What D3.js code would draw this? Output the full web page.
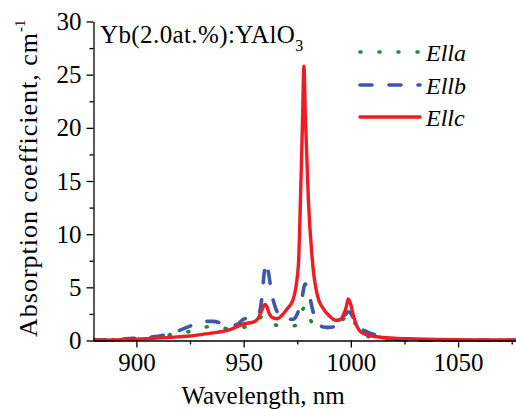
<!DOCTYPE html>
<html><head><meta charset="utf-8">
<script src="https://cdn.jsdelivr.net/npm/d3@7"></script>
<style>html,body{margin:0;padding:0;background:#fff;}svg{display:block;}</style>
</head><body>
<svg id="chart" width="516" height="409"></svg>
<script>
// ---- data ----
const xTicks = [900, 950, 1000, 1050];
const xMinorTicks = [925, 975, 1025, 1075];
const yTicks = [0, 5, 10, 15, 20, 25, 30];
const yMinorTicks = [2.5, 7.5, 12.5, 17.5, 22.5, 27.5];

const seriesNames = ["Ella", "Ellb", "Ellc"];

const wlA = [880, 890, 900, 910, 915, 920, 926, 930, 934, 938, 944, 948, 952, 955, 957.5, 959, 961, 963, 966, 970, 974, 976, 977.5, 978.7, 980, 981.5, 983, 986, 990, 993, 996, 999, 1001, 1003, 1006, 1010, 1015, 1025, 1077];
const valA = [0.03, 0.06, 0.12, 0.3, 0.5, 0.7, 0.9, 1.15, 1.3, 1.25, 1.1, 1.2, 1.35, 1.7, 2.1, 2.3, 1.9, 1.6, 1.4, 1.3, 1.4, 2.2, 2.9, 3.2, 2.6, 1.8, 1.4, 1.3, 1.2, 1.4, 1.9, 2.5, 2.0, 1.2, 0.6, 0.25, 0.1, 0.04, 0.02];

const wlB = [880, 890, 898, 905, 910, 915, 920, 925, 929, 932, 936, 940, 944, 947, 950, 954, 957, 958.5, 959.5, 960.5, 961.5, 963, 965, 967, 970, 973, 975, 977, 978.7, 980, 981.5, 983, 985, 988, 991, 994, 997, 999, 1001, 1003, 1006, 1009, 1013, 1018, 1025, 1035, 1077];
const valB = [0.05, 0.08, 0.2, 0.3, 0.4, 0.6, 0.95, 1.35, 1.7, 1.8, 1.8, 1.6, 1.4, 1.5, 2.0, 2.2, 2.5, 4.0, 6.2, 7.3, 6.5, 4.5, 3.0, 2.3, 2.0, 2.0, 2.5, 3.8, 5.3, 4.8, 3.5, 2.2, 1.5, 1.25, 1.25, 1.6, 2.3, 2.7, 2.2, 1.4, 0.95, 0.7, 0.4, 0.15, 0.06, 0.03, 0.02];

const wlC = [880, 890, 900, 910, 920, 925, 930, 935, 940, 944, 948, 951, 954, 956, 958, 959, 960, 961, 962, 964, 965.6, 968, 970, 973, 975.5, 976.5, 977.5, 978.1, 978.8, 980.2, 982.3, 985, 986.5, 990, 993, 995, 996.5, 997.8, 998.7, 999.6, 1001, 1002.5, 1004, 1006, 1008, 1012, 1020, 1030, 1040, 1050, 1060, 1077];
const valC = [0.03, 0.06, 0.12, 0.22, 0.35, 0.42, 0.55, 0.7, 0.85, 1.05, 1.4, 1.6, 1.7, 1.9, 2.6, 3.1, 3.4, 3.1, 2.5, 2.1, 2.05, 2.4, 2.9, 3.8, 7.0, 13.2, 21, 25.8, 21, 13.2, 7.0, 3.8, 3.2, 2.3, 1.9, 1.95, 2.4, 3.1, 3.9, 3.6, 2.5, 1.5, 0.95, 0.65, 0.5, 0.35, 0.22, 0.15, 0.1, 0.07, 0.05, 0.04];

// ---- layout ----
const svg = d3.select("#chart");
const x = d3.scaleLinear().domain([880, 1077]).range([93.5, 516]);
const y = d3.scaleLinear().domain([0, 30]).range([340.5, 21.5]);
const FONT = "Liberation Serif, Tinos, Times New Roman, DejaVu Serif, serif";

const styles = [
  {color: "#1a8a3a", width: 3.6, dash: "1,18", cap: "round"},
  {color: "#3b58ab", width: 3.6, dash: "12,17", cap: "round"},
  {color: "#ee1c25", width: 3.4, dash: null, cap: "round"}
];
const wls = [wlA, wlB, wlC];
const vals = [valA, valB, valC];

svg.append("defs").append("clipPath").attr("id", "clip")
  .append("rect").attr("x", 93.5).attr("y", 0).attr("width", 516 - 93.5).attr("height", 342);

const line = d3.line().x(d => x(d[0])).y(d => y(d[1])).curve(d3.curveMonotoneX);

const plot = svg.append("g").attr("clip-path", "url(#clip)");
[0, 1, 2].forEach(i => {
  const pts = wls[i].map((w, j) => [w, vals[i][j]]);
  plot.append("path").datum(pts).attr("d", line)
    .attr("fill", "none").attr("stroke", styles[i].color)
    .attr("stroke-width", styles[i].width)
    .attr("stroke-linecap", styles[i].cap).attr("stroke-linejoin", "round")
    .attr("stroke-dasharray", styles[i].dash);
});

// ---- axes ----
svg.append("g").attr("transform", "translate(0,340.5)")
  .call(d3.axisBottom(x).tickValues(xTicks).tickSize(7).tickPadding(6).tickSizeOuter(0).tickFormat(d3.format("d")));
svg.append("g").attr("transform", "translate(0,340.5)")
  .call(d3.axisBottom(x).tickValues(xMinorTicks).tickSize(4).tickSizeOuter(0).tickFormat(""))
  .select(".domain").remove();
svg.append("g").attr("transform", "translate(93.5,0)")
  .call(d3.axisLeft(y).tickValues(yTicks).tickSize(7).tickPadding(5).tickSizeOuter(0).tickFormat(d3.format("d")));
svg.append("g").attr("transform", "translate(93.5,0)")
  .call(d3.axisLeft(y).tickValues(yMinorTicks).tickSize(4).tickSizeOuter(0).tickFormat(""))
  .select(".domain").remove();

svg.selectAll("g").attr("font-family", FONT);
svg.selectAll(".domain, .tick line").attr("stroke", "#000").attr("stroke-width", 1.3);
svg.selectAll(".tick text").attr("font-family", FONT).attr("font-size", 25).attr("fill", "#000");

// ---- titles ----
svg.append("text").attr("x", 263).attr("y", 404).attr("text-anchor", "middle")
  .attr("font-family", FONT).attr("font-size", 25).text("Wavelength, nm");

const yt = svg.append("text").attr("transform", "translate(37,337) rotate(-90)")
  .attr("text-anchor", "start").attr("font-family", FONT).attr("font-size", 26)
  .attr("letter-spacing", 1);
yt.append("tspan").text("Absorption coefficient, cm");
yt.append("tspan").attr("dy", -12).attr("font-size", 15).attr("letter-spacing", 0).text("-1");

const ann = svg.append("text").attr("x", 100).attr("y", 43)
  .attr("font-family", FONT).attr("font-size", 25).attr("letter-spacing", 0.4);
ann.append("tspan").text("Yb(2.0at.%):YAlO");
ann.append("tspan").attr("dy", 8).attr("font-size", 16).text("3");

// ---- legend ----
const legY = [52, 85, 117];
[0, 1, 2].forEach(i => {
  svg.append("line").attr("x1", 360).attr("x2", 420).attr("y1", legY[i]).attr("y2", legY[i])
    .attr("stroke", styles[i].color).attr("stroke-width", styles[i].width)
    .attr("stroke-linecap", styles[i].cap).attr("stroke-dasharray", styles[i].dash);
  svg.append("text").attr("x", 426).attr("y", legY[i] + 9)
    .attr("font-family", FONT).attr("font-style", "italic").attr("font-size", 24)
    .text(seriesNames[i]);
});
</script>
</body></html>
